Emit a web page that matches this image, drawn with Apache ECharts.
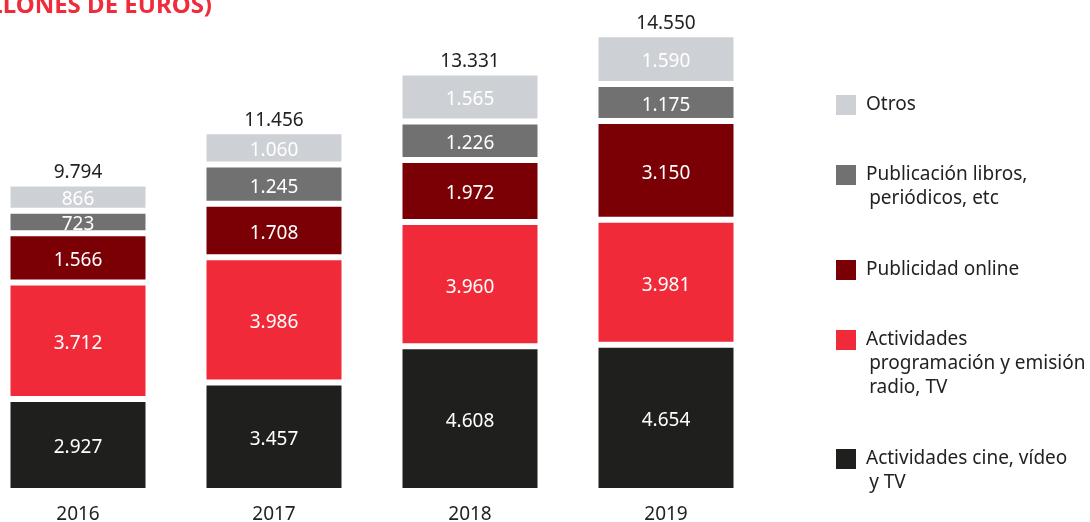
<!DOCTYPE html>
<html>
<head>
<meta charset="utf-8">
<script src="https://cdn.jsdelivr.net/npm/echarts@6/dist/echarts.min.js"></script>
<style>
html,body{margin:0;padding:0;background:#fff;}
#chart{width:1090px;height:522px;}
</style>
</head>
<body>
<div id="chart"></div>
<script>
// ---- data ----
const years = ['2016', '2017', '2018', '2019'];
const cineVideoTV = [2927, 3457, 4608, 4654];
const programacionRadioTV = [3712, 3986, 3960, 3981];
const publicidadOnline = [1566, 1708, 1972, 3150];
const publicacionLibros = [723, 1245, 1226, 1175];
const otros = [866, 1060, 1565, 1590];
const totals = [9794, 11456, 13331, 14550];

const seriesNames = [
  'Actividades cine, vídeo y TV',
  'Actividades programación y emisión radio, TV',
  'Publicidad online',
  'Publicación libros, periódicos, etc',
  'Otros'
];
const legendText = {
  'Otros': 'Otros',
  'Publicación libros, periódicos, etc': '\nPublicación libros,\n\u2009periódicos, etc',
  'Publicidad online': 'Publicidad online',
  'Actividades programación y emisión radio, TV': '\n\nActividades\n\u2009programación y emisión\n\u2009radio, TV',
  'Actividades cine, vídeo y TV': '\nActividades cine, vídeo\n\u2009y TV'
};
const colors = ['#1F1F1D', '#F12A3A', '#7B0005', '#717171', '#CDD1D5'];

function fmt(v) {
  return String(v).replace(/\B(?=(\d{3})+(?!\d))/g, '.');
}

const FONT = 'Noto Sans';
const chart = echarts.init(document.getElementById('chart'), null, {renderer: 'canvas'});

const dataSets = [cineVideoTV, programacionRadioTV, publicidadOnline, publicacionLibros, otros];
const series = dataSets.map((arr, i) => ({
  name: seriesNames[i],
  type: 'bar',
  stack: 'total',
  barWidth: 141,
  data: arr,
  itemStyle: {color: colors[i], borderColor: '#ffffff', borderWidth: 3},
  label: {
    show: true,
    position: 'inside',
    offset: [0, 3],
    color: '#ffffff',
    fontFamily: FONT,
    fontSize: 19,
    formatter: p => fmt(p.value)
  },
  emphasis: {disabled: true}
}));
series.push({
  name: 'Total',
  type: 'bar',
  stack: 'total',
  barWidth: 141,
  data: totals.map(() => 0),
  itemStyle: {color: 'transparent', borderWidth: 0},
  label: {
    show: true,
    position: 'top',
    distance: 1,
    color: '#222222',
    fontFamily: FONT,
    fontSize: 19,
    formatter: p => fmt(totals[p.dataIndex])
  },
  emphasis: {disabled: true}
});

// legend tops (icon centers at 102.7, 173, 268, 338, 457)
const legendDefs = [
  {name: 'Otros', top: 93},
  {name: 'Publicación libros, periódicos, etc', top: 139},
  {name: 'Publicidad online', top: 258},
  {name: 'Actividades programación y emisión radio, TV', top: 280},
  {name: 'Actividades cine, vídeo y TV', top: 423}
];
const legends = legendDefs.map(d => ({
  data: [d.name],
  left: 836,
  top: d.top,
  orient: 'vertical',
  padding: 0,
  icon: 'rect',
  itemWidth: 20,
  itemHeight: 20,
  itemStyle: {borderWidth: 0},
  selectedMode: false,
  formatter: n => legendText[n],
  textStyle: {
    fontFamily: FONT,
    fontSize: 19,
    lineHeight: 24,
    color: '#222222',
    padding: [0, 0, 0, 5]
  }
}));

chart.setOption({
  animation: false,
  backgroundColor: '#ffffff',
  graphic: [{
    type: 'text',
    right: 1090 - 212,
    top: -6,
    style: {
      text: '(MILLONES DE EUROS)',
      fontFamily: FONT,
      fontWeight: 'bold',
      fontSize: 24,
      fill: '#EF2B3C'
    }
  }],
  legend: legends,
  grid: {left: -20, width: 784, top: 20, bottom: 31, outerBoundsMode: 'none', containLabel: false},
  xAxis: {
    type: 'category',
    data: years,
    axisLine: {show: false},
    axisTick: {show: false},
    axisLabel: {
      color: '#222222',
      fontFamily: FONT,
      fontSize: 19,
      margin: 14
    }
  },
  yAxis: {
    type: 'value',
    min: 0,
    max: 15000,
    show: false,
    splitLine: {show: false}
  },
  series: series
});
</script>
</body>
</html>
